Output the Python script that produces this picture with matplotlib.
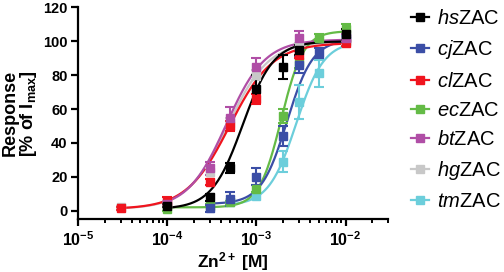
import matplotlib

matplotlib.use("Agg")
import matplotlib.pyplot as plt
import numpy as np
from matplotlib.lines import Line2D
from matplotlib.ticker import FixedLocator, FuncFormatter, LogLocator, NullFormatter

plt.rcParams["font.family"] = ["Liberation Sans", "DejaVu Sans"]
plt.rcParams["mathtext.fontset"] = "custom"
plt.rcParams["mathtext.rm"] = "Liberation Sans:bold"
plt.rcParams["mathtext.it"] = "Liberation Sans:italic"
plt.rcParams["mathtext.bf"] = "Liberation Sans:bold"

# --- data ---------------------------------------------------------------
names = ["hs", "cj", "cl", "ec", "bt", "hg", "tm"]
colors = ["#000000", "#3b4ea6", "#f0141e", "#64bb46", "#b04ea6", "#c8c8c8", "#6ccedb"]

hs_conc = [1e-4, 3e-4, 5e-4, 1e-3, 2e-3, 3e-3, 1e-2]
hs_resp = [3, 8, 25, 72, 85, 95, 104]
hs_err = [1, 2, 3, 8, 7, 3, 3]

cj_conc = [3e-4, 5e-4, 1e-3, 2e-3, 3e-3, 5e-3, 1e-2]
cj_resp = [1.5, 7, 20, 44, 86, 93, 102]
cj_err = [2, 4, 5, 6, 5, 3, 2]

cl_conc = [3e-5, 1e-4, 3e-4, 5e-4, 1e-3, 3e-3, 1e-2]
cl_resp = [1.4, 6, 17, 50, 66, 92, 99]
cl_err = [1, 2, 2, 3, 3, 2, 2]

ec_conc = [1e-4, 3e-4, 5e-4, 1e-3, 2e-3, 3e-3, 5e-3, 1e-2]
ec_resp = [1, 3, 5, 13, 56, 88, 102, 107]
ec_err = [1, 1, 1, 2, 4, 4, 2, 3]

bt_conc = [1e-4, 3e-4, 5e-4, 1e-3, 3e-3, 1e-2]
bt_resp = [4, 25, 55, 85, 102, 102]
bt_err = [1, 4, 6, 5, 4, 2]

hg_conc = [3e-5, 1e-4, 3e-4, 5e-4, 1e-3, 3e-3, 1e-2]
hg_resp = [2, 5, 23, 52, 80, 97, 100]
hg_err = [1, 1, 2, 3, 3, 2, 2]

tm_conc = [5e-4, 1e-3, 2e-3, 3e-3, 5e-3, 1e-2]
tm_resp = [5, 9, 29, 64, 81, 100]
tm_err = [1, 2, 6, 10, 8, 3]

# Hill fit parameters (bottom, top, EC50 [M], slope)
fit_bottom = [1, 4, 1, 2, 1, 1, 3]
fit_top = [100, 101, 99, 106, 101, 100, 100]
fit_ec50 = [7.0e-4, 2.2e-3, 5.0e-4, 1.9e-3, 4.6e-4, 4.8e-4, 2.8e-3]
fit_slope = [2.5, 3.0, 1.8, 3.5, 2.0, 1.9, 2.8]

series = {
    "hs": (hs_conc, hs_resp, hs_err),
    "cj": (cj_conc, cj_resp, cj_err),
    "cl": (cl_conc, cl_resp, cl_err),
    "ec": (ec_conc, ec_resp, ec_err),
    "bt": (bt_conc, bt_resp, bt_err),
    "hg": (hg_conc, hg_resp, hg_err),
    "tm": (tm_conc, tm_resp, tm_err),
}
draw_order = ["hg", "tm", "ec", "cj", "cl", "bt", "hs"]


def hill(x, bottom, top, ec50, slope):
    return bottom + (top - bottom) / (1 + (ec50 / x) ** slope)


fig = plt.figure(figsize=(5.04, 2.72), dpi=100)
ax = fig.add_axes([0.155, 0.194, 0.615, 0.779])

for key in draw_order:
    i = names.index(key)
    conc, resp, err = series[key]
    xs = np.logspace(np.log10(conc[0]), np.log10(conc[-1]), 200)
    ax.plot(xs, hill(xs, fit_bottom[i], fit_top[i], fit_ec50[i], fit_slope[i]),
            color=colors[i], lw=1.6, zorder=2)
    ax.errorbar(conc, resp, yerr=err, fmt="s", color=colors[i], ms=6,
                elinewidth=1.5, capsize=3.5, capthick=1.5, zorder=3)

ax.set_xscale("log")
ax.set_xlim(1e-5, 3e-2)
ax.set_ylim(-5, 120)
ax.yaxis.set_major_locator(FixedLocator([0, 20, 40, 60, 80, 100, 120]))
ax.xaxis.set_major_locator(FixedLocator([1e-5, 1e-4, 1e-3, 1e-2]))
ax.xaxis.set_minor_locator(LogLocator(base=10, subs=np.arange(2, 10)))
ax.xaxis.set_minor_formatter(NullFormatter())
ax.xaxis.set_major_formatter(
    FuncFormatter(lambda v, p: r"$\mathrm{10^{%d}}$" % round(np.log10(v))))

for side in ("top", "right"):
    ax.spines[side].set_visible(False)
for side in ("left", "bottom"):
    ax.spines[side].set_linewidth(1.6)
ax.tick_params(which="major", length=5, width=1.6, labelsize=10.5, pad=2.5)
ax.tick_params(axis="x", which="major", labelsize=11.5, pad=3)
ax.tick_params(which="minor", length=3, width=1.4)
for lab in ax.get_yticklabels():
    lab.set_fontweight("bold")

ax.set_ylabel("Response\n[% of I$_{\\mathrm{max}}$]", fontsize=13,
              fontweight="bold", labelpad=3, linespacing=0.95)
ax.set_xlabel("Zn$^{\\mathrm{2+}}$ [M]", fontsize=12.5, fontweight="bold", labelpad=1)

handles = [Line2D([], [], color=c, lw=1.6, marker="s", ms=6) for c in colors]
labels = ["$\\it{%s}$ZAC" % n for n in names]
fig.legend(handles, labels, loc="upper left", bbox_to_anchor=(0.8, 0.995),
           frameon=False, fontsize=14.5, handlelength=0.9, handletextpad=0.4,
           labelspacing=0.5, borderaxespad=0)

fig.savefig("out.png", dpi=100)
